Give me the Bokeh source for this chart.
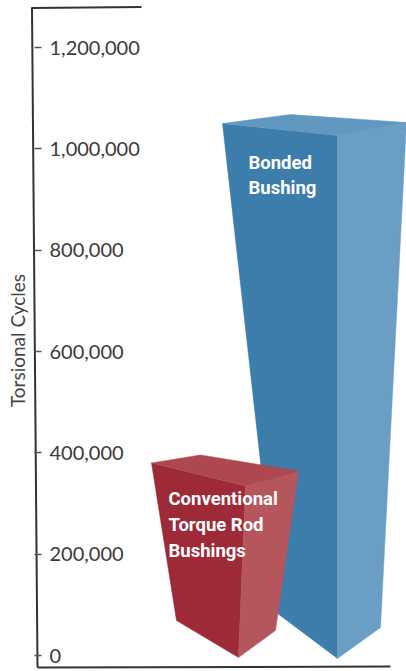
from bokeh.plotting import figure
from bokeh.models import LinearAxis, FixedTicker, Range1d
from bokeh.core.properties import value
from bokeh.embed import file_html
from bokeh.resources import INLINE

# ---- data ----
categories = ["Conventional Torque Rod Bushings", "Bonded Bushing"]
cycles = [380000, 1050000]
tick_values = [0, 200000, 400000, 600000, 800000, 1000000, 1200000]
tick_labels = ["0", "200,000", "400,000", "600,000", "800,000", "1,000,000", "1,200,000"]
axis_title = "Torsional Cycles"
bar_text = [["Conventional", "Torque Rod", "Bushings"], ["Bonded", "Bushing"]]

# ---- layout: x is page pixels, y is cycles ----
W, H = 406, 671
UNITS_PER_PX = 1973.7
ZERO_PX = 655


def dy(px):
    """Convert a downward pixel offset to cycles."""
    return -px * UNITS_PER_PX


def py(page_y):
    return (ZERO_PX - page_y) * UNITS_PER_PX


p = figure(width=W, height=H, output_backend="svg", toolbar_location=None,
           x_range=Range1d(0, W), y_range=Range1d(py(H), py(0)),
           min_border=0, outline_line_color=None, x_axis_type=None, y_axis_type=None)
p.grid.visible = False
p.background_fill_color = "#ffffff"
p.border_fill_color = "#ffffff"

# 3D prism geometry of each bar (front edge x and spreads, base and top shapes)
shapes = [
    dict(front_top=245, left_top=151, right_top=298, back_top=200,
         front_bot=238, left_bot=176, right_bot=275,
         top_off=dict(left=0, front=23, right=8, back=-8),
         bot_y=dict(left=620, front=657, right=630),
         left="#9d2a36", right="#b5555c", top="#ae4850"),
    dict(front_top=337, left_top=222, right_top=406, back_top=290,
         front_bot=337, left_bot=277, right_bot=380,
         top_off=dict(left=0, front=12, right=-1, back=-9),
         bot_y=dict(left=613, front=658, right=627),
         left="#3c7dac", right="#6a9ec4", top="#6098c0"),
]

for i in (1, 0):
    s, v = shapes[i], cycles[i]
    o = s["top_off"]
    top = lambda k: v + dy(o[k])
    p.patch([s["left_top"], s["front_top"], s["front_bot"], s["left_bot"]],
            [top("left"), top("front"), py(s["bot_y"]["front"]), py(s["bot_y"]["left"])],
            fill_color=s["left"], line_color=s["left"], line_width=0.5)
    p.patch([s["front_top"], s["right_top"], s["right_bot"], s["front_bot"]],
            [top("front"), top("right"), py(s["bot_y"]["right"]), py(s["bot_y"]["front"])],
            fill_color=s["right"], line_color=s["right"], line_width=0.5)
    p.patch([s["left_top"], s["back_top"], s["right_top"], s["front_top"]],
            [top("left"), top("back"), top("right"), top("front")],
            fill_color=s["top"], line_color=s["top"], line_width=0.5)

# axis: real ticks and labels, placed inside the frame
axis = LinearAxis(fixed_location=34,
                  ticker=FixedTicker(ticks=tick_values),
                  major_label_overrides=dict(zip(tick_values, tick_labels)))
axis.axis_line_color = None
axis.major_tick_in = 0
axis.major_tick_out = 7
axis.major_tick_line_color = "#555555"
axis.major_tick_line_width = 1.5
axis.minor_tick_line_color = None
axis.major_label_standoff = 8
axis.major_label_text_font = "Lato"
axis.major_label_text_font_size = "20px"
axis.major_label_text_color = "#3a3a3a"
p.add_layout(axis, "right")

# frame lines
FRAME = "#333333"
p.line([31.5, 37], [py(7), py(667)], line_color=FRAME, line_width=2)
p.line([31, 141], [py(7.5), py(6.5)], line_color=FRAME, line_width=2)
p.line([37, 390], [py(667), py(666)], line_color=FRAME, line_width=2)

# axis title
p.text([17], [py(340)], text=[axis_title], angle=1.5708, text_align="center",
       text_baseline="middle", text_font=value("Lato"), text_font_size="19px",
       text_color="#444444")

# texts on the bars
anchors = [(168, [498, 524, 550]), (248, [162, 187])]
for (x0, ys), lines in zip(anchors, bar_text):
    p.text([x0] * len(lines), [py(y) for y in ys], text=lines, text_align="left",
           text_baseline="middle", text_font=value("Roboto"), text_font_style="bold",
           text_font_size="18.5px", text_color="#ffffff")

open("out.html", "w").write(file_html(p, INLINE))
